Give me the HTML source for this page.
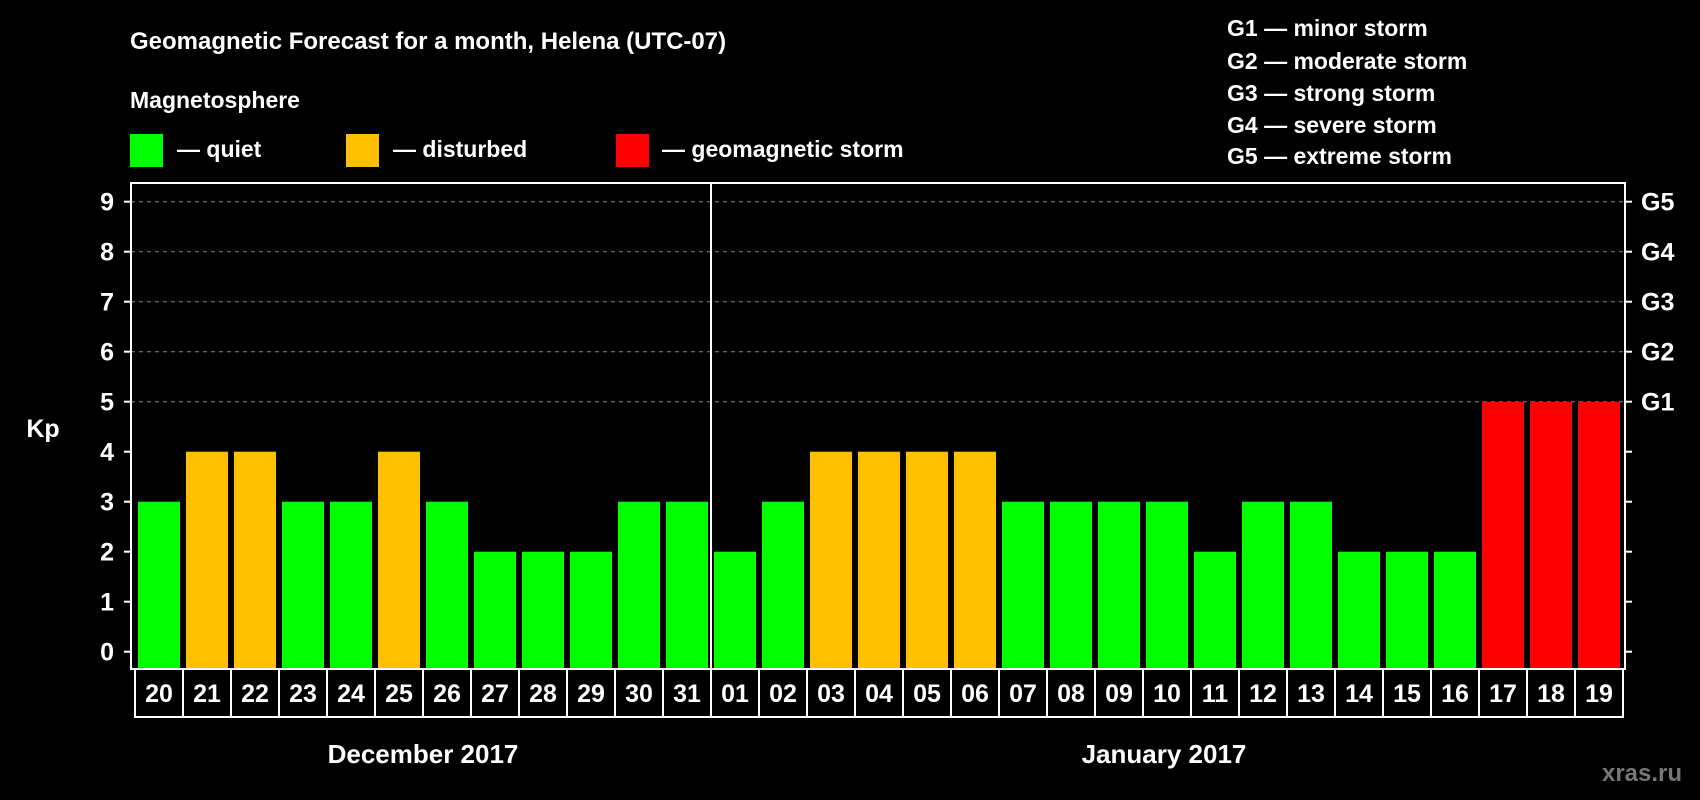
<!DOCTYPE html>
<html><head><meta charset="utf-8"><style>
html,body{margin:0;padding:0;background:#000;}
svg{display:block;font-family:"Liberation Sans",Arial,sans-serif;font-weight:bold;}
</style></head><body>
<svg id="chart" width="1700" height="800" viewBox="0 0 1700 800" xmlns="http://www.w3.org/2000/svg">
<rect width="1700" height="800" fill="#000"/>
<text x="130" y="49" fill="#fff" font-size="24">Geomagnetic Forecast for a month, Helena (UTC-07)</text>
<text x="130" y="108" fill="#fff" font-size="23">Magnetosphere</text>
<g><rect x="130" y="134" width="33" height="33" fill="#00ff00"/><text x="177" y="157" fill="#fff" font-size="23">— quiet</text></g>
<g><rect x="346" y="134" width="33" height="33" fill="#ffc000"/><text x="393" y="157" fill="#fff" font-size="23">— disturbed</text></g>
<g><rect x="616" y="134" width="33" height="33" fill="#ff0000"/><text x="662" y="157" fill="#fff" font-size="23">— geomagnetic storm</text></g>
<g fill="#fff" font-size="23">
<text x="1227" y="36">G1 — minor storm</text>
<text x="1227" y="69">G2 — moderate storm</text>
<text x="1227" y="101">G3 — strong storm</text>
<text x="1227" y="133">G4 — severe storm</text>
<text x="1227" y="164">G5 — extreme storm</text>
</g>
<text x="43" y="437" fill="#fff" font-size="25" text-anchor="middle">Kp</text>
<g id="grid"></g>
<g id="bars"></g>
<g id="axes"></g>
<text x="423" y="763" fill="#fff" font-size="26" text-anchor="middle">December 2017</text>
<text x="1164" y="763" fill="#fff" font-size="26" text-anchor="middle">January 2017</text>
<text x="1642" y="781" fill="#777" font-size="24" text-anchor="middle">xras.ru</text>
</svg>
<script>
const days = ["20","21","22","23","24","25","26","27","28","29","30","31","01","02","03","04","05","06","07","08","09","10","11","12","13","14","15","16","17","18","19"];
const kpValues = [3,4,4,3,3,4,3,2,2,2,3,3,2,3,4,4,4,4,3,3,3,3,2,3,3,2,2,2,5,5,5];
const yTicks = [0,1,2,3,4,5,6,7,8,9];
const gLabels = ["G1","G2","G3","G4","G5"];
const NS="http://www.w3.org/2000/svg";
const L=131,R=1625,T=183,B=669,X0=135,STEP=48;
function y(v){return 651.7-50*v;}
function x(i){return X0+i*STEP;}
function color(v){return v>=5?"#ff0000":v>=4?"#ffc000":"#00ff00";}
function mk(tag,attrs,parent){const e=document.createElementNS(NS,tag);for(const k in attrs)e.setAttribute(k,attrs[k]);parent.appendChild(e);return e;}
const grid=document.getElementById("grid"),bars=document.getElementById("bars"),axes=document.getElementById("axes");
yTicks.forEach(v=>{
  if(v>=5){const l=mk("line",{x1:L,x2:R,y1:y(v),y2:y(v),stroke:"#888","stroke-dasharray":"4,4","stroke-width":1},grid);
  
  }
  const t=mk("line",{x1:L-7,x2:L,y1:y(v),y2:y(v),stroke:"#fff","stroke-width":2},axes);
  
  
  const t2=mk("line",{x1:R,x2:R+7,y1:y(v),y2:y(v),stroke:"#fff","stroke-width":2},axes);
  
  
  const tx=mk("text",{x:114,y:y(v)+9,fill:"#fff","font-size":25,"text-anchor":"end"},axes);
  tx.textContent=v;
  
  
});
gLabels.forEach((g,i)=>{
  const tx=mk("text",{x:1641,y:y(5+i)+9,fill:"#fff","font-size":25},axes);
  tx.textContent=g;
  
  
});
kpValues.forEach((v,i)=>{
  const r=mk("rect",{x:x(i)+3,y:y(v),width:42,height:B-1-y(v),fill:color(v)},bars);
  
  
  const c=mk("rect",{x:x(i),y:B,width:STEP,height:48,fill:"none",stroke:"#fff","stroke-width":2},axes);
  
  
  const tx=mk("text",{x:x(i)+STEP/2,y:B+33,fill:"#fff","font-size":25,"text-anchor":"middle"},axes);
  tx.textContent=days[i];
  
  
});
const f=mk("rect",{x:L,y:T,width:R-L,height:B-T,fill:"none",stroke:"#fff","stroke-width":2},axes);


const mi=days.indexOf("01");
const d=mk("line",{x1:x(mi),x2:x(mi),y1:T,y2:B,stroke:"#fff","stroke-width":2},axes);


</script>
</body></html>
